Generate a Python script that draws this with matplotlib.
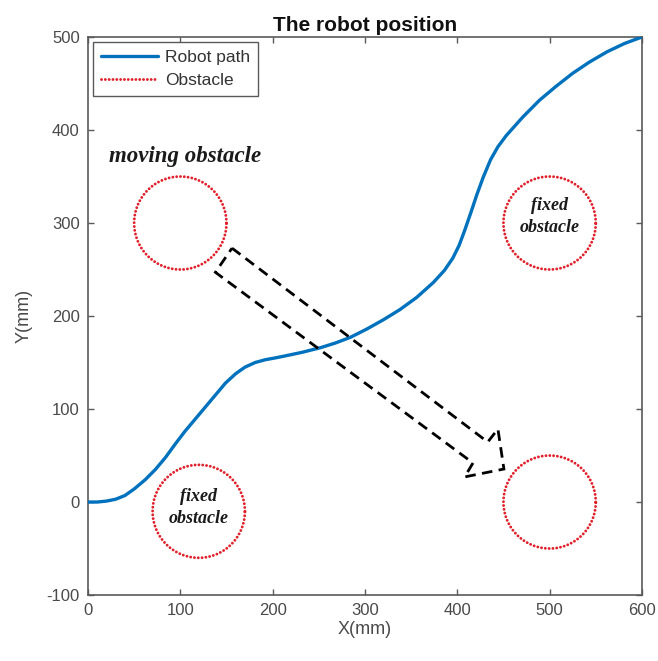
import numpy as np
import matplotlib
matplotlib.use("Agg")
import matplotlib.pyplot as plt
from matplotlib.patches import Polygon

plt.rcParams["axes.unicode_minus"] = False

# Robot trajectory (mm)
path_x = [0, 10, 20, 30, 40, 50, 62, 73, 84, 95, 105, 116, 127, 138, 149, 160,
          170, 181, 192, 203, 213, 232, 252, 268, 284, 302, 320, 338, 356, 374,
          386, 395, 402, 408, 416, 421, 428, 436, 444, 453, 471, 489, 507, 525,
          543, 562, 581, 600]
path_y = [0, 0, 1, 3, 7, 14, 24, 35, 48, 63, 76, 89, 102, 115, 128, 138,
          145, 150, 153, 155, 157, 161, 166, 171, 177, 186, 196, 207, 220, 236,
          249, 262, 276, 292, 315, 330, 349, 368, 382, 394, 414, 432, 447, 461,
          473, 484, 493, 500]

# Obstacles: centres and radius (mm)
obs_x = [100, 120, 500, 500]
obs_y = [300, -10, 300, 0]
obs_r = 50

# Annotations inside the fixed obstacles
fixed_label_x = [120, 500]
fixed_label_y = [-6, 307]
fixed_label = "fixed\nobstacle"

# Outline of the motion arrow for the moving obstacle (mm)
arrow_x = [156, 433, 444, 450.5, 408, 417, 138]
arrow_y = [273, 64.5, 78.5, 35.5, 27, 42, 247]

x_ticks = [0, 100, 200, 300, 400, 500, 600]
y_ticks = [-100, 0, 100, 200, 300, 400, 500]

sans = ["Liberation Sans", "DejaVu Sans"]
serif = ["Liberation Serif", "DejaVu Serif"]
axis_grey = "#5a5a5a"
label_grey = "#4a4a4a"
dot_style = (0, (0.01, 1.3))

fig = plt.figure(figsize=(6.58, 6.61), dpi=100)
ax = fig.add_axes([0.1337, 0.0998, 0.8419, 0.8442])

ax.plot(path_x, path_y, color="#0072BD", lw=2.4, label="Robot path",
        solid_capstyle="round", solid_joinstyle="round", zorder=3)

theta = np.linspace(0, 2 * np.pi, 400)
for i, (cx, cy) in enumerate(zip(obs_x, obs_y)):
    ax.plot(cx + obs_r * np.cos(theta), cy + obs_r * np.sin(theta),
            color="#e0202a", lw=2.1, linestyle=dot_style,
            dash_capstyle="round",
            label="Obstacle" if i == 0 else None, zorder=2)

for lx, ly in zip(fixed_label_x, fixed_label_y):
    ax.text(lx, ly, fixed_label, ha="center", va="center",
            family=serif, style="italic", weight="bold", fontsize=13,
            color="#1a1a1a", linespacing=1.35)

ax.add_patch(Polygon(list(zip(arrow_x, arrow_y)), closed=True, fill=False,
                     edgecolor="black", lw=2.0, linestyle=(0, (3.8, 2.3)),
                     zorder=4))

ax.text(105, 372, "moving obstacle", ha="center", va="center",
        family=serif, style="italic", weight="bold", fontsize=16.5,
        color="#1a1a1a")

ax.set_xlim(0, 600)
ax.set_ylim(-100, 500)
ax.set_xticks(x_ticks)
ax.set_yticks(y_ticks)
ax.tick_params(direction="in", length=4, width=1, colors=axis_grey,
               labelcolor=label_grey, labelsize=12, top=True, right=True,
               pad=6)
for lab in ax.get_xticklabels() + ax.get_yticklabels():
    lab.set_family(sans)
for sp in ax.spines.values():
    sp.set_color(axis_grey)
    sp.set_linewidth(1.2)

ax.set_xlabel("X(mm)", family=sans, fontsize=13, color=label_grey, labelpad=2)
ax.set_ylabel("Y(mm)", family=sans, fontsize=13, color=label_grey, labelpad=10)
ax.set_title("The robot position", family=sans, weight="bold", fontsize=15,
             color="#111111", pad=4)

leg = ax.legend(loc="upper left", prop={"family": sans, "size": 12.5},
                handlelength=3.3, handletextpad=0.4, borderpad=0.45,
                labelspacing=0.45, borderaxespad=0.3, fancybox=False,
                framealpha=1)
leg.get_frame().set_edgecolor(axis_grey)
leg.get_frame().set_linewidth(1.0)
for t in leg.get_texts():
    t.set_color("#333333")

fig.savefig("out.png", dpi=100)
